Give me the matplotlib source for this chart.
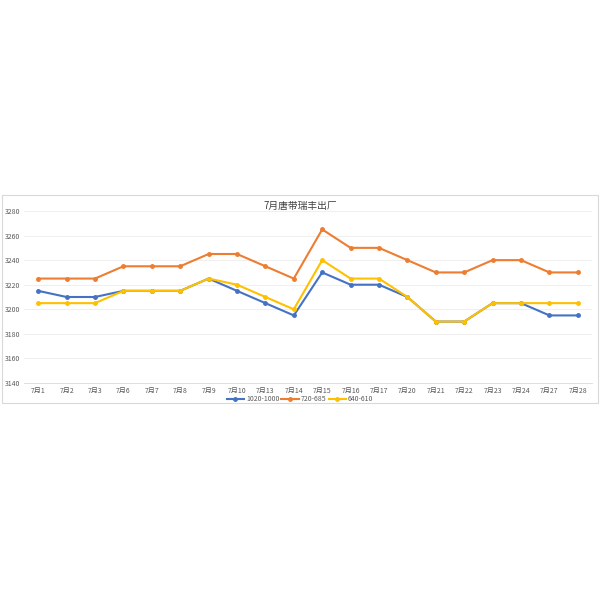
import matplotlib
matplotlib.use("Agg")
import matplotlib.pyplot as plt
from matplotlib.patches import Rectangle

plt.rcParams['font.family'] = ['Noto Sans CJK SC', 'DejaVu Sans']

# --- データ ---
dates = ["7月1", "7月2", "7月3", "7月6", "7月7", "7月8", "7月9", "7月10", "7月13", "7月14",
         "7月15", "7月16", "7月17", "7月20", "7月21", "7月22", "7月23", "7月24", "7月27", "7月28"]
s_1020 = [3215, 3210, 3210, 3215, 3215, 3215, 3225, 3215, 3205, 3195,
          3230, 3220, 3220, 3210, 3190, 3190, 3205, 3205, 3195, 3195]
s_720 = [3225, 3225, 3225, 3235, 3235, 3235, 3245, 3245, 3235, 3225,
         3265, 3250, 3250, 3240, 3230, 3230, 3240, 3240, 3230, 3230]
s_640 = [3205, 3205, 3205, 3215, 3215, 3215, 3225, 3220, 3210, 3200,
         3240, 3225, 3225, 3210, 3190, 3190, 3205, 3205, 3205, 3205]
series = [("1020-1000", s_1020, "#4472C4"),
          ("720-685", s_720, "#ED7D31"),
          ("640-610", s_640, "#FFC000")]
yticks = [3140, 3160, 3180, 3200, 3220, 3240, 3260, 3280]

W, H = 600, 600
fig = plt.figure(figsize=(6, 6), dpi=100)
fig.patch.set_facecolor("white")

# 外枠
fig.add_artist(Rectangle((2 / W, 1 - 403 / H), 596 / W, 208 / H,
                         transform=fig.transFigure, fill=False,
                         edgecolor="#D9D9D9", linewidth=0.8))

ax = fig.add_axes([24 / W, 1 - 383 / H, 568 / W, 172 / H])
x = list(range(len(dates)))
for name, vals, col in series:
    ax.plot(x, vals, color=col, linewidth=1.5, marker="o", markersize=2.5, label=name)

ax.set_xlim(-0.5, len(dates) - 0.5)
ax.set_ylim(3140, 3280)
ax.set_yticks(yticks)
ax.set_xticks(x)
ax.set_xticklabels(dates)
ax.tick_params(axis="both", labelsize=5, colors="#595959", length=0, pad=3)
ax.yaxis.set_tick_params(pad=14)
for lab in ax.get_yticklabels():
    lab.set_horizontalalignment("left")
ax.grid(axis="y", color="#EDEDED", linewidth=0.6)
ax.set_axisbelow(True)
for sp in ["top", "right", "left"]:
    ax.spines[sp].set_visible(False)
ax.spines["bottom"].set_color("#D9D9D9")
ax.spines["bottom"].set_linewidth(0.6)

fig.text(300 / W, 1 - 206 / H, "7月唐带瑞丰出厂", ha="center", va="center",
         fontsize=7, color="#404040")

fig.legend(loc="center", bbox_to_anchor=(300 / W, 1 - 399 / H), ncol=3,
           fontsize=5, frameon=False, handlelength=2.5, columnspacing=0.3,
           handletextpad=0.3, labelcolor="#595959")

fig.savefig("out.png", dpi=100)
